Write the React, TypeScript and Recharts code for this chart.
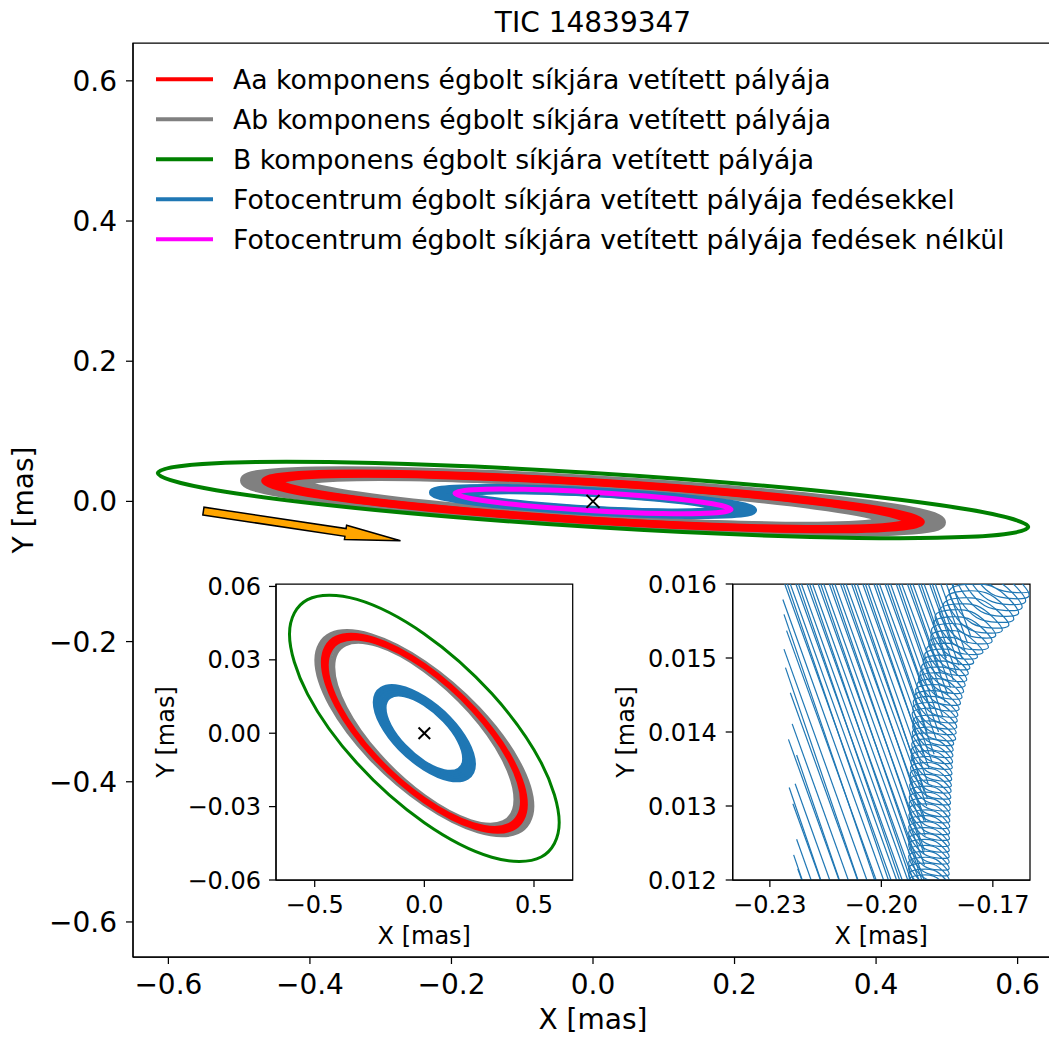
import React from 'react';
import { ComposedChart, Line, Scatter, XAxis, YAxis, ReferenceLine, ReferenceArea } from 'recharts';

type Pair = [number, number];

// Projected orbits on the sky plane, in mas. Bands are drawn as a few nested outlines.
const orbitB: Pair[] = [[0.615,-0.0365],[0.5326,-0.012],[0.3075,0.0162],[0,0.0406],[-0.3075,0.0547],[-0.5326,0.0546],[-0.615,0.0405],[-0.5326,0.016],[-0.3075,-0.0122],[0,-0.0366],[0.3075,-0.0507],[0.5326,-0.0506]];

const orbitAa: Pair[][] = [
  [[0.444,-0.0279],[0.3845,-0.0107],[0.222,0.0093],[0,0.0268],[-0.222,0.0371],[-0.3845,0.0375],[-0.444,0.0279],[-0.3845,0.0107],[-0.222,-0.0093],[0,-0.0268],[0.222,-0.0371],[0.3845,-0.0375]],
  [[0.454,-0.0285],[0.3932,-0.011],[0.227,0.0095],[0,0.0274],[-0.227,0.038],[-0.3932,0.0384],[-0.454,0.0285],[-0.3932,0.011],[-0.227,-0.0095],[0,-0.0274],[0.227,-0.038],[0.3932,-0.0384]],
  [[0.464,-0.0291],[0.4019,-0.0112],[0.232,0.0097],[0,0.028],[-0.232,0.0388],[-0.4019,0.0392],[-0.464,0.0291],[-0.4019,0.0112],[-0.232,-0.0097],[0,-0.028],[0.232,-0.0388],[0.4019,-0.0392]],
];

const orbitAb: Pair[][] = [
  [[0.4177,-0.0271],[0.3617,-0.0104],[0.2088,0.009],[0,0.026],[-0.2088,0.0361],[-0.3617,0.0365],[-0.4177,0.0271],[-0.3617,0.0104],[-0.2088,-0.009],[0,-0.026],[0.2088,-0.0361],[0.3617,-0.0365]],
  [[0.4358,-0.0278],[0.3775,-0.0107],[0.2179,0.0092],[0,0.0267],[-0.2179,0.037],[-0.3775,0.0374],[-0.4358,0.0278],[-0.3775,0.0107],[-0.2179,-0.0092],[0,-0.0267],[0.2179,-0.037],[0.3775,-0.0374]],
  [[0.454,-0.0285],[0.3932,-0.011],[0.227,0.0095],[0,0.0274],[-0.227,0.038],[-0.3932,0.0384],[-0.454,0.0285],[-0.3932,0.011],[-0.227,-0.0095],[0,-0.0274],[0.227,-0.038],[0.3932,-0.0384]],
  [[0.4722,-0.0292],[0.4089,-0.0113],[0.2361,0.0097],[0,0.0281],[-0.2361,0.0389],[-0.4089,0.0393],[-0.4722,0.0292],[-0.4089,0.0113],[-0.2361,-0.0097],[0,-0.0281],[0.2361,-0.0389],[0.4089,-0.0393]],
  [[0.4903,-0.0299],[0.4247,-0.0115],[0.2452,0.01],[0,0.0288],[-0.2452,0.0399],[-0.4247,0.0403],[-0.4903,0.0299],[-0.4247,0.0115],[-0.2452,-0.01],[0,-0.0288],[0.2452,-0.0399],[0.4247,-0.0403]],
];

const photocentreEclipses: Pair[][] = [
  [[0.1814,-0.0104],[0.1571,-0.003],[0.0907,0.0051],[0,0.0119],[-0.0907,0.0155],[-0.1571,0.0149],[-0.1814,0.0104],[-0.1571,0.003],[-0.0907,-0.0051],[0,-0.0119],[0.0907,-0.0155],[0.1571,-0.0149]],
  [[0.1931,-0.0109],[0.1672,-0.0032],[0.0965,0.0054],[0,0.0125],[-0.0965,0.0163],[-0.1672,0.0157],[-0.1931,0.0109],[-0.1672,0.0032],[-0.0965,-0.0054],[0,-0.0125],[0.0965,-0.0163],[0.1672,-0.0157]],
  [[0.2048,-0.0115],[0.1773,-0.0034],[0.1024,0.0057],[0,0.0132],[-0.1024,0.0172],[-0.1773,0.0166],[-0.2048,0.0115],[-0.1773,0.0034],[-0.1024,-0.0057],[0,-0.0132],[0.1024,-0.0172],[0.1773,-0.0166]],
  [[0.2165,-0.0121],[0.1875,-0.0035],[0.1082,0.006],[0,0.0139],[-0.1082,0.018],[-0.1875,0.0174],[-0.2165,0.0121],[-0.1875,0.0035],[-0.1082,-0.006],[0,-0.0139],[0.1082,-0.018],[0.1875,-0.0174]],
  [[0.2262,-0.0127],[0.1959,-0.0037],[0.1131,0.0063],[0,0.0145],[-0.1131,0.0189],[-0.1959,0.0182],[-0.2262,0.0127],[-0.1959,0.0037],[-0.1131,-0.0063],[0,-0.0145],[0.1131,-0.0189],[0.1959,-0.0182]],
];

const photocentreClean: Pair[] = [[0.195,-0.0115],[0.1689,-0.0034],[0.0975,0.0057],[0,0.0132],[-0.0975,0.0172],[-0.1689,0.0166],[-0.195,0.0115],[-0.1689,0.0034],[-0.0975,-0.0057],[0,-0.0132],[0.0975,-0.0172],[0.1689,-0.0166]];

const centre = [{ x: 0, y: 0 }];

// direction-of-motion arrow (data units)
const arrowTail = { x: -0.5505, y: -0.0138 };
const arrowTip = { x: -0.272, y: -0.0561 };
const arrowShaft = 0.011;
const arrowHead = 0.0205;
const arrowHeadLength = 0.0786;

// zoomed photocentre track: eclipse jumps [x1, y1, x2, y2] and the wobble loops
const eclipseJumps: number[][] = [
  [-0.2225,0.01215,-0.2214,0.012],[-0.2228,0.01255,-0.2189,0.012],[-0.2238,0.01303,-0.2164,0.012],
  [-0.2232,0.0133,-0.2139,0.012],[-0.225,0.0139,-0.2114,0.012],[-0.224,0.01411,-0.2089,0.012],
  [-0.2245,0.01453,-0.2064,0.012],[-0.2262,0.01512,-0.2039,0.012],[-0.2255,0.01537,-0.2014,0.012],
  [-0.2265,0.01579,-0.1994,0.012],[-0.226,0.016,-0.1974,0.012],[-0.2245,0.016,-0.1959,0.012],
  [-0.223,0.016,-0.1944,0.012],[-0.2215,0.016,-0.1929,0.012],[-0.22,0.016,-0.1914,0.012],
  [-0.2185,0.016,-0.1899,0.012],[-0.217,0.016,-0.1885,0.012],[-0.2155,0.016,-0.1884,0.0122],
  [-0.214,0.016,-0.1884,0.0124],[-0.2125,0.016,-0.1882,0.0126],[-0.211,0.016,-0.1881,0.0128],
  [-0.2095,0.016,-0.1878,0.013],[-0.208,0.016,-0.1876,0.0131],[-0.2065,0.016,-0.1874,0.0133],
  [-0.205,0.016,-0.1871,0.0135],[-0.2035,0.016,-0.1864,0.0136],[-0.202,0.016,-0.1858,0.0137],
  [-0.2005,0.016,-0.1852,0.0139],[-0.199,0.016,-0.1846,0.014],[-0.1975,0.016,-0.184,0.0141],
  [-0.196,0.016,-0.1834,0.0142],[-0.1945,0.016,-0.1828,0.0144],[-0.193,0.016,-0.1821,0.0145],
  [-0.1915,0.016,-0.1814,0.0146],[-0.19,0.016,-0.1806,0.0147],[-0.1885,0.016,-0.1798,0.0148],
  [-0.187,0.016,-0.1791,0.0149],[-0.1855,0.016,-0.1783,0.015],[-0.184,0.016,-0.1775,0.0151],
  [-0.1825,0.016,-0.1768,0.0152],[-0.181,0.016,-0.176,0.0153],
  [-0.2236,0.01234,-0.2213,0.012],[-0.2248,0.01325,-0.2163,0.012],[-0.2228,0.01369,-0.2113,0.012],
  [-0.2258,0.01487,-0.2063,0.012],[-0.2262,0.01559,-0.2018,0.012],
  [-0.2253,0.016,-0.1981,0.012],[-0.2223,0.016,-0.1951,0.012],[-0.2193,0.016,-0.1921,0.012],
  [-0.2163,0.016,-0.1891,0.012],[-0.2133,0.016,-0.1885,0.01235],[-0.2103,0.016,-0.1885,0.0128],
  [-0.2073,0.016,-0.1885,0.0132],[-0.2043,0.016,-0.1887,0.0137],[-0.2013,0.016,-0.1877,0.014],
  [-0.1983,0.016,-0.1867,0.0143],[-0.1953,0.016,-0.1851,0.0145],[-0.1923,0.016,-0.1841,0.0148],
  [-0.1893,0.016,-0.1825,0.015],[-0.1863,0.016,-0.1809,0.0152],
];

const wobbleLoops: Pair[] = [
  [-0.1818,0.01167],[-0.18843,0.011707],[-0.1926,0.01201],[-0.18597,0.012053],
  [-0.1818,0.01183],[-0.18843,0.011867],[-0.1926,0.01217],[-0.18597,0.012213],
  [-0.1818,0.01199],[-0.18843,0.012027],[-0.1926,0.01233],[-0.18597,0.012373],
  [-0.1818,0.01215],[-0.18843,0.012187],[-0.1926,0.01249],[-0.18597,0.012533],
  [-0.1818,0.01231],[-0.18843,0.012347],[-0.1926,0.01265],[-0.18597,0.012693],
  [-0.18176,0.01247],[-0.18839,0.012507],[-0.19256,0.01281],[-0.18593,0.012853],
  [-0.1817,0.01263],[-0.18833,0.012667],[-0.1925,0.01297],[-0.18587,0.013013],
  [-0.18163,0.01279],[-0.18826,0.012827],[-0.19243,0.01313],[-0.1858,0.013173],
  [-0.18152,0.01295],[-0.18815,0.012987],[-0.19232,0.01329],[-0.18569,0.013333],
  [-0.18136,0.01311],[-0.18799,0.013147],[-0.19216,0.01345],[-0.18553,0.013493],
  [-0.1812,0.01327],[-0.18783,0.013307],[-0.192,0.01361],[-0.18537,0.013653],
  [-0.18104,0.01343],[-0.18767,0.013467],[-0.19184,0.01377],[-0.18521,0.013813],
  [-0.18088,0.01359],[-0.18751,0.013627],[-0.19168,0.01393],[-0.18505,0.013973],
  [-0.18072,0.01375],[-0.18735,0.013787],[-0.19152,0.01409],[-0.18489,0.014133],
  [-0.18005,0.0139],[-0.18718,0.013936],[-0.19165,0.01426],[-0.18452,0.014304],
  [-0.17976,0.01406],[-0.18689,0.014096],[-0.19136,0.01442],[-0.18423,0.014464],
  [-0.17947,0.01422],[-0.18642,0.014256],[-0.19071,0.01458],[-0.1834,0.014624],
  [-0.17876,0.01438],[-0.18568,0.014416],[-0.18994,0.01474],[-0.1826,0.014784],
  [-0.17791,0.01454],[-0.18483,0.014576],[-0.18909,0.0149],[-0.18175,0.014944],
  [-0.17707,0.0147],[-0.18399,0.014736],[-0.18825,0.01506],[-0.18091,0.015104],
  [-0.17623,0.01486],[-0.18305,0.014896],[-0.1872,0.01522],[-0.17976,0.015264],
  [-0.17417,0.01501],[-0.18179,0.015038],[-0.18639,0.0154],[-0.17779,0.015442],
  [-0.17121,0.01514],[-0.18006,0.015173],[-0.18543,0.01558],[-0.17587,0.015627],
  [-0.16925,0.0153],[-0.17796,0.015333],[-0.18319,0.01574],[-0.17322,0.015787],
  [-0.16572,0.01544],[-0.17562,0.015468],[-0.1816,0.01592],[-0.17038,0.015972],
  [-0.1631,0.0156],[-0.17319,0.015628],[-0.17936,0.01608],[-0.16833,0.016132],
  [-0.16122,0.01576],[-0.17131,0.015788],[-0.17748,0.01624],[-0.16645,0.016292],
  [-0.15934,0.01592],[-0.16943,0.015948],[-0.1756,0.0164],[-0.16457,0.016452],
];

// a later pass of the same stretch, shifted half a loop
const wobbleLoopsLater: Pair[] = [
  [-0.1818,0.011753],[-0.18843,0.011787],[-0.1926,0.012087],[-0.18597,0.012133],
  [-0.1818,0.011913],[-0.18843,0.011947],[-0.1926,0.012247],[-0.18597,0.012293],
  [-0.1818,0.012073],[-0.18843,0.012107],[-0.1926,0.012407],[-0.18597,0.012453],
  [-0.1818,0.012233],[-0.18843,0.012267],[-0.1926,0.012567],[-0.18597,0.012613],
  [-0.18178,0.012393],[-0.18841,0.012427],[-0.19258,0.012727],[-0.18595,0.012773],
  [-0.18173,0.012553],[-0.18836,0.012587],[-0.19253,0.012887],[-0.1859,0.012933],
  [-0.18167,0.012713],[-0.1883,0.012747],[-0.19247,0.013047],[-0.18584,0.013093],
  [-0.18158,0.012873],[-0.18821,0.012907],[-0.19238,0.013207],[-0.18575,0.013253],
  [-0.18144,0.013033],[-0.18807,0.013067],[-0.19224,0.013367],[-0.18561,0.013413],
  [-0.18128,0.013193],[-0.18791,0.013227],[-0.19208,0.013527],[-0.18545,0.013573],
  [-0.18112,0.013353],[-0.18775,0.013387],[-0.19192,0.013687],[-0.18529,0.013733],
  [-0.18096,0.013513],[-0.18759,0.013547],[-0.19176,0.013847],[-0.18513,0.013893],
  [-0.1808,0.013673],[-0.18743,0.013707],[-0.1916,0.014007],[-0.18497,0.014053],
  [-0.18059,0.013833],[-0.18722,0.013867],[-0.19139,0.014167],[-0.18476,0.014213],
  [-0.17991,0.013984],[-0.18704,0.014016],[-0.19151,0.014336],[-0.18438,0.014384],
  [-0.17962,0.014144],[-0.18665,0.014176],[-0.19102,0.014496],[-0.18379,0.014544],
  [-0.17912,0.014304],[-0.18605,0.014336],[-0.19032,0.014656],[-0.18299,0.014704],
  [-0.17834,0.014464],[-0.18526,0.014496],[-0.18952,0.014816],[-0.18218,0.014864],
  [-0.17749,0.014624],[-0.18441,0.014656],[-0.18867,0.014976],[-0.18133,0.015024],
  [-0.17665,0.014784],[-0.18352,0.014816],[-0.18773,0.015136],[-0.18034,0.015184],
  [-0.1752,0.014934],[-0.18242,0.014966],[-0.1866,0.015306],[-0.17878,0.015354],
  [-0.17269,0.015073],[-0.18092,0.015105],[-0.18591,0.015487],[-0.1767,0.015535],
  [-0.17023,0.015221],[-0.17901,0.015253],[-0.18431,0.015659],[-0.17441,0.015707],
  [-0.16749,0.01537],[-0.17679,0.0154],[-0.18239,0.01583],[-0.17179,0.01588],
  [-0.16441,0.015518],[-0.17441,0.015548],[-0.18049,0.016002],[-0.16937,0.016052],
  [-0.16216,0.015678],[-0.17225,0.015708],[-0.17842,0.016162],[-0.16739,0.016212],
  [-0.16028,0.015838],[-0.17037,0.015868],[-0.17654,0.016322],[-0.16551,0.016372],
];

const mainTicks = [-0.6, -0.4, -0.2, 0, 0.2, 0.4, 0.6];
const insetXTicks = [-0.5, 0, 0.5];
const insetYTicks = [-0.06, -0.03, 0, 0.03, 0.06];
const zoomXTicks = [-0.23, -0.2, -0.17];
const zoomYTicks = [0.012, 0.013, 0.014, 0.015, 0.016];

const RED = '#ff0000';
const GRAY = '#808080';
const GREEN = '#008000';
const BLUE = '#1f77b4';
const MAGENTA = '#ff00ff';

const legendItems = [
  { label: 'Aa komponens égbolt síkjára vetített pályája', color: RED },
  { label: 'Ab komponens égbolt síkjára vetített pályája', color: GRAY },
  { label: 'B komponens égbolt síkjára vetített pályája', color: GREEN },
  { label: 'Fotocentrum égbolt síkjára vetített pályája fedésekkel', color: BLUE },
  { label: 'Fotocentrum égbolt síkjára vetített pályája fedések nélkül', color: MAGENTA },
];

const FONT = 'DejaVu Sans';

// closed / open Catmull-Rom curve in the d3 curve-factory shape recharts accepts
const catmullRom = (closed: boolean) => (ctx: any) => {
  let pts: Pair[] = [];
  return {
    areaStart() {},
    areaEnd() {},
    lineStart() { pts = []; },
    point(x: number, y: number) { pts.push([+x, +y]); },
    lineEnd() {
      const n = pts.length;
      if (!n) return;
      const at = (i: number) => (closed ? pts[(i + n) % n] : pts[Math.max(0, Math.min(n - 1, i))]);
      ctx.moveTo(pts[0][0], pts[0][1]);
      const segs = closed ? n : n - 1;
      for (let i = 0; i < segs; i++) {
        const p0 = at(i - 1), p1 = at(i), p2 = at(i + 1), p3 = at(i + 2);
        ctx.bezierCurveTo(
          p1[0] + (p2[0] - p0[0]) / 6, p1[1] + (p2[1] - p0[1]) / 6,
          p2[0] - (p3[0] - p1[0]) / 6, p2[1] - (p3[1] - p1[1]) / 6,
          p2[0], p2[1],
        );
      }
      if (closed) ctx.closePath();
    },
  };
};
const closedCurve = catmullRom(true);
const openCurve = catmullRom(false);

const toPoints = (pts: Pair[]) => pts.map(([x, y]) => ({ x, y }));
const fmt = (digits: number) => (v: number) => v.toFixed(digits).replace('-', '\u2212');

const axisStyle = { stroke: '#000', strokeWidth: 1.25 };

const curve = (pts: Pair[], key: string, color: string, width: number, type: any = closedCurve) => (
  <Line
    key={key}
    data={toPoints(pts)}
    dataKey="y"
    type={type}
    stroke={color}
    strokeWidth={width}
    dot={false}
    activeDot={false}
    isAnimationActive={false}
  />
);

// axes box: the two missing spines
const frame = (xDomain: number[], yDomain: number[]) => (
  <ReferenceArea x1={xDomain[0]} x2={xDomain[1]} y1={yDomain[0]} y2={yDomain[1]}
    fill="none" fillOpacity={0} stroke="#000" strokeWidth={1.25} strokeOpacity={1} />
);

const cross = (half: number, w: number) => (p: any) => (
  <g stroke="#000" strokeWidth={w}>
    <line x1={p.cx - half} y1={p.cy - half} x2={p.cx + half} y2={p.cy + half} />
    <line x1={p.cx - half} y1={p.cy + half} x2={p.cx + half} y2={p.cy - half} />
  </g>
);

const arrowShape = (p: any) => {
  const { x1, y1, x2, y2 } = p;
  const dx = x2 - x1;
  const dy = y2 - y1;
  const len = Math.hypot(dx, dy);
  const k = len / Math.hypot(arrowTip.x - arrowTail.x, arrowTip.y - arrowTail.y);
  const ux = dx / len, uy = dy / len;
  const nx = -uy, ny = ux;
  const s = (arrowShaft * k) / 2;
  const h = (arrowHead * k) / 2;
  const hl = arrowHeadLength * k;
  const bx = x2 - ux * hl, by = y2 - uy * hl;
  const pts = [
    [x1 + nx * s, y1 + ny * s], [bx + nx * s, by + ny * s], [bx + nx * h, by + ny * h],
    [x2, y2],
    [bx - nx * h, by - ny * h], [bx - nx * s, by - ny * s], [x1 - nx * s, y1 - ny * s],
  ];
  return <polygon points={pts.map((q) => q.join(',')).join(' ')} fill="#ffa500" stroke="#000" strokeWidth={1.5} />;
};

function MainChart() {
  const xDomain = [-0.65, 0.65];
  const yDomain = [-0.65, 0.654];
  const tick = { fontSize: 28, fill: '#000', fontFamily: FONT };
  return (
    <ComposedChart width={1060} height={1039} margin={{ top: 43, right: 7, bottom: 22, left: 0 }}>
      <XAxis dataKey="x" type="number" domain={xDomain} ticks={mainTicks} allowDataOverflow interval={0}
        height={60} tickSize={7} tickMargin={10} tickFormatter={fmt(1)} tick={tick} axisLine={axisStyle} tickLine={axisStyle} />
      <YAxis dataKey="y" type="number" domain={yDomain} ticks={mainTicks} allowDataOverflow interval={0}
        width={133} tickSize={7} tickMargin={9} tickFormatter={fmt(1)} tick={tick} axisLine={axisStyle} tickLine={axisStyle} />
      {frame(xDomain, yDomain)}
      {orbitAb.map((o, i) => curve(o, `ab${i}`, GRAY, 12))}
      {orbitAa.map((o, i) => curve(o, `aa${i}`, RED, 7))}
      {curve(orbitB, 'b', GREEN, 4)}
      {photocentreEclipses.map((o, i) => curve(o, `pe${i}`, BLUE, 8))}
      {curve(photocentreClean, 'pc', MAGENTA, 5)}
      <Scatter data={centre} dataKey="y" shape={cross(6.5, 2)} isAnimationActive={false} />
      <ReferenceLine segment={[arrowTail, arrowTip]} shape={arrowShape} />
    </ComposedChart>
  );
}

function OrbitInset() {
  const xDomain = [-0.6765, 0.6765];
  const yDomain = [-0.06, 0.061];
  const tick = { fontSize: 24, fill: '#000', fontFamily: FONT };
  return (
    <ComposedChart width={440} height={400} margin={{ top: 24, right: 17.3, bottom: 20, left: 0 }}>
      <XAxis dataKey="x" type="number" domain={xDomain} ticks={insetXTicks} allowDataOverflow interval={0}
        height={60} tickSize={7} tickMargin={9} tickFormatter={fmt(1)} tick={tick} axisLine={axisStyle} tickLine={axisStyle} />
      <YAxis dataKey="y" type="number" domain={yDomain} ticks={insetYTicks} allowDataOverflow interval={0}
        width={126} tickSize={7} tickMargin={8} tickFormatter={fmt(2)} tick={tick} axisLine={axisStyle} tickLine={axisStyle} />
      {frame(xDomain, yDomain)}
      {orbitAb.map((o, i) => curve(o, `ab${i}`, GRAY, 5))}
      {orbitAa.map((o, i) => curve(o, `aa${i}`, RED, 3.5))}
      {curve(orbitB, 'b', GREEN, 3)}
      {photocentreEclipses.map((o, i) => curve(o, `pe${i}`, BLUE, 4))}
      <Scatter data={centre} dataKey="y" shape={cross(5.8, 2)} isAnimationActive={false} />
    </ComposedChart>
  );
}

function ZoomInset() {
  const xDomain = [-0.24, -0.16];
  const yDomain = [0.012, 0.016];
  const tick = { fontSize: 24, fill: '#000', fontFamily: FONT };
  return (
    <ComposedChart width={449} height={400} margin={{ top: 24, right: 19, bottom: 20, left: 0 }}>
      <XAxis dataKey="x" type="number" domain={xDomain} ticks={zoomXTicks} allowDataOverflow interval={0}
        height={60} tickSize={7} tickMargin={9} tickFormatter={fmt(2)} tick={tick} axisLine={axisStyle} tickLine={axisStyle} />
      <YAxis dataKey="y" type="number" domain={yDomain} ticks={zoomYTicks} allowDataOverflow interval={0}
        width={132.7} tickSize={7} tickMargin={9} tickFormatter={fmt(3)} tick={tick} axisLine={axisStyle} tickLine={axisStyle} />
      {frame(xDomain, yDomain)}
      {eclipseJumps.map(([x1, y1, x2, y2], i) =>
        curve([[x1, y1], [x2, y2]], `j${i}`, BLUE, 1.2, 'linear'))}
      {curve(wobbleLoops, 'loops', BLUE, 1.2, openCurve)}
      {curve(wobbleLoopsLater, 'loops2', BLUE, 1.2, openCurve)}
    </ComposedChart>
  );
}

export default function App() {
  return (
    <div style={{ position: 'relative', width: 1049, height: 1039, overflow: 'hidden', background: '#fff', fontFamily: FONT }}>
      <style>{'body{margin:0;overflow:hidden}'}</style>
      <div style={{ position: 'absolute', left: 0, top: 0 }}>
        <MainChart />
      </div>
      <div style={{ position: 'absolute', left: 150, top: 560 }}>
        <OrbitInset />
      </div>
      <div style={{ position: 'absolute', left: 600, top: 560 }}>
        <ZoomInset />
      </div>
      <svg width={1049} height={1039} style={{ position: 'absolute', left: 0, top: 0, pointerEvents: 'none' }}
        fontFamily={FONT} fill="#000">
        <text x={593} y={31.7} textAnchor="middle" fontSize={28}>TIC 14839347</text>
        <text x={593} y={1029} textAnchor="middle" fontSize={28}>X [mas]</text>
        <text transform="translate(33,500) rotate(-90)" textAnchor="middle" fontSize={28}>Y [mas]</text>
        <text x={424.3} y={944} textAnchor="middle" fontSize={24}>X [mas]</text>
        <text transform="translate(174,732) rotate(-90)" textAnchor="middle" fontSize={24}>Y [mas]</text>
        <text x={881.3} y={944} textAnchor="middle" fontSize={24}>X [mas]</text>
        <text transform="translate(633.5,732) rotate(-90)" textAnchor="middle" fontSize={24}>Y [mas]</text>
        {legendItems.map((item, i) => (
          <g key={item.label}>
            <line x1={156} x2={213} y1={79.3 + 40 * i} y2={79.3 + 40 * i} stroke={item.color} strokeWidth={4} />
            <text x={233} y={89.3 + 40 * i} fontSize={26.67}>{item.label}</text>
          </g>
        ))}
      </svg>
    </div>
  );
}
